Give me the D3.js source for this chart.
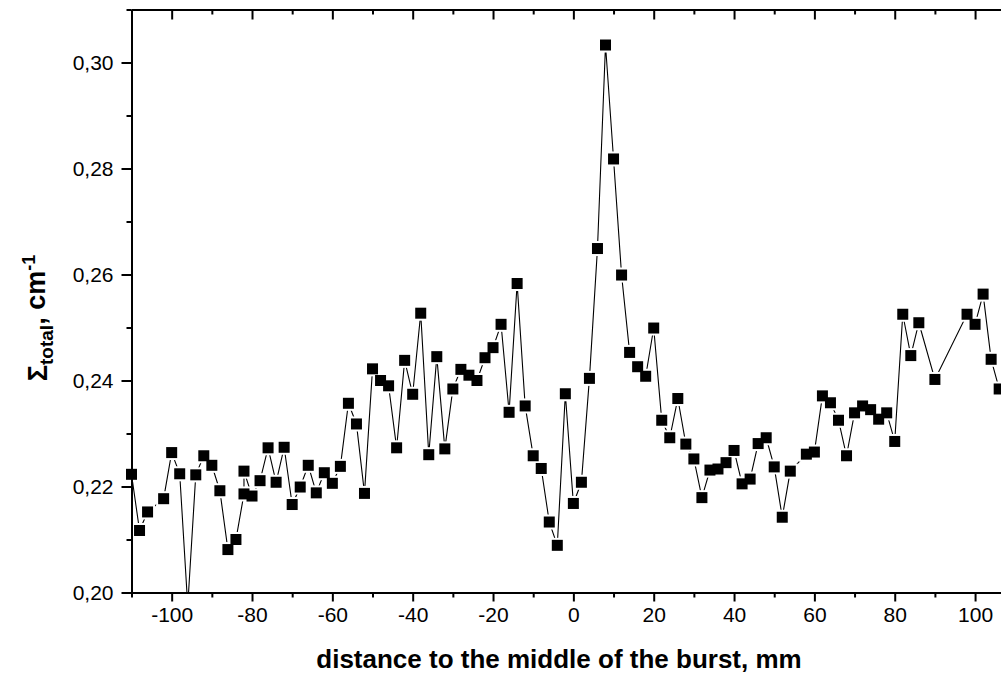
<!DOCTYPE html>
<html>
<head>
<meta charset="utf-8">
<script src="https://cdn.jsdelivr.net/npm/d3@7"></script>
<style>
  html, body { margin: 0; padding: 0; background: #fff; }
  svg { display: block; }
  text { font-family: "Liberation Sans", Arial, sans-serif; fill: #000; }
</style>
</head>
<body>
<svg id="chart" width="1001" height="681"></svg>
<script>
// Position along the burst, mm
const distance = [
  -110, -108, -106, -102, -100, -98, -96, -94, -92, -90,
  -88, -86, -84, -82, -82, -80, -78, -76, -74, -72,
  -70, -68, -66, -64, -62, -60, -58, -56, -54, -52,
  -50, -48, -46, -44, -42, -40, -38, -36, -34, -32,
  -30, -28, -26, -24, -22, -20, -18, -16, -14, -12,
  -10, -8, -6, -4, -2, 0, 2, 4, 6, 8,
  10, 12, 14, 16, 18, 20, 22, 24, 26, 28,
  30, 32, 34, 36, 38, 40, 42, 44, 46, 48,
  50, 52, 54, 58, 60, 62, 64, 66, 68, 70,
  72, 74, 76, 78, 80, 82, 84, 86, 90, 98,
  100, 102, 104, 106
];

// Total macroscopic cross section, cm^-1
const sigmaTotal = [
  0.2223, 0.2117, 0.2152, 0.2177, 0.2264, 0.2224, 0.1975, 0.2222, 0.2258, 0.2240,
  0.2192, 0.2081, 0.2100, 0.2186, 0.2229, 0.2182, 0.2211, 0.2273, 0.2208, 0.2274,
  0.2166, 0.2199, 0.2240, 0.2188, 0.2226, 0.2206, 0.2238, 0.2357, 0.2318, 0.2187,
  0.2422, 0.2400, 0.2390, 0.2273, 0.2438, 0.2374, 0.2527, 0.2260, 0.2445, 0.2271,
  0.2384, 0.2421, 0.2410, 0.2400, 0.2443, 0.2462, 0.2506, 0.2340, 0.2583, 0.2352,
  0.2258, 0.2234, 0.2133, 0.2089, 0.2375, 0.2168, 0.2208, 0.2404, 0.2649, 0.3033,
  0.2818, 0.2599, 0.2453, 0.2426, 0.2408, 0.2499, 0.2325, 0.2292, 0.2366, 0.2280,
  0.2252, 0.2179, 0.2231, 0.2233, 0.2245, 0.2268, 0.2205, 0.2214, 0.2281, 0.2292,
  0.2237, 0.2142, 0.2229, 0.2261, 0.2265, 0.2371, 0.2358, 0.2325, 0.2258, 0.2339,
  0.2352, 0.2345, 0.2327, 0.2339, 0.2285, 0.2525, 0.2447, 0.2509, 0.2402, 0.2525,
  0.2506, 0.2563, 0.2440, 0.2384
];

const xMajorTicks = [-100, -80, -60, -40, -20, 0, 20, 40, 60, 80, 100];
const xMinorTicks = [-110, -90, -70, -50, -30, -10, 10, 30, 50, 70, 90, 110];
const yMajorTicks = [0.20, 0.22, 0.24, 0.26, 0.28, 0.30];
const yMinorTicks = [0.21, 0.23, 0.25, 0.27, 0.29, 0.31];

const xTitle = "distance to the middle of the burst, mm";

const svg = d3.select("#chart");

const plot = { left: 131.5, top: 9.5, bottom: 592.5 };
const pxPerMm = 4.017;

const x = d3.scaleLinear()
  .domain([-110, 110])
  .range([plot.left, plot.left + 220 * pxPerMm]);

const y = d3.scaleLinear()
  .domain([0.20, 0.31])
  .range([plot.bottom, plot.top]);

// decimal comma on the value axis, plain hyphen for negatives on the distance axis
const fmtY = d => d.toFixed(2).replace(".", ",");
const fmtX = d => String(Math.round(d));

const data = distance.map((d, i) => ({ x: d, v: sigmaTotal[i] }));

// clip regions: line stays inside the frame, markers may spill over the sides but not below the bottom axis
const defs = svg.append("defs");
defs.append("clipPath").attr("id", "plotClip")
  .append("rect")
  .attr("x", x.range()[0]).attr("y", plot.top)
  .attr("width", x.range()[1] - x.range()[0])
  .attr("height", plot.bottom - plot.top);
defs.append("clipPath").attr("id", "markClip")
  .append("rect")
  .attr("x", x.range()[0] - 10).attr("y", plot.top - 10)
  .attr("width", x.range()[1] - x.range()[0] + 20)
  .attr("height", plot.bottom - plot.top + 10);

// connecting line
const line = d3.line().x(d => x(d.x)).y(d => y(d.v));
svg.append("path")
  .datum(data)
  .attr("clip-path", "url(#plotClip)")
  .attr("fill", "none")
  .attr("stroke", "#000")
  .attr("stroke-width", 1.1)
  .attr("d", line);

// markers with a white gap around them
const markSize = 11;
const gap = 2;
const marks = svg.append("g").attr("clip-path", "url(#markClip)");
marks.selectAll("rect.halo")
  .data(data)
  .join("rect")
  .attr("class", "halo")
  .attr("x", d => x(d.x) - markSize / 2 - gap)
  .attr("y", d => y(d.v) - markSize / 2 - gap)
  .attr("width", markSize + 2 * gap)
  .attr("height", markSize + 2 * gap)
  .attr("fill", "#fff");
marks.selectAll("rect.mark")
  .data(data)
  .join("rect")
  .attr("class", "mark")
  .attr("x", d => x(d.x) - markSize / 2)
  .attr("y", d => y(d.v) - markSize / 2)
  .attr("width", markSize)
  .attr("height", markSize)
  .attr("fill", "#000");

// axes
function styleAxis(g) {
  g.select(".domain").attr("stroke", "#000").attr("stroke-width", 2);
  g.selectAll(".tick line").attr("stroke", "#000").attr("stroke-width", 2);
  g.selectAll(".tick text")
    .style("font-family", '"Liberation Sans", Arial, sans-serif')
    .style("font-size", "21px")
    .attr("fill", "#000");
}

// bottom
const xBottomMinor = svg.append("g")
  .attr("transform", `translate(0,${plot.bottom})`)
  .call(d3.axisBottom(x).tickValues(xMinorTicks).tickSize(5).tickFormat("").tickSizeOuter(0));
styleAxis(xBottomMinor);
const xBottom = svg.append("g")
  .attr("transform", `translate(0,${plot.bottom})`)
  .call(d3.axisBottom(x).tickValues(xMajorTicks).tickSize(9).tickPadding(5).tickFormat(fmtX).tickSizeOuter(0));
styleAxis(xBottom);
xBottom.selectAll(".tick text").attr("dy", "0.73em");

// top (ticks pointing inward)
const xTopMinor = svg.append("g")
  .attr("transform", `translate(0,${plot.top})`)
  .call(d3.axisTop(x).tickValues(xMinorTicks).tickSize(-5).tickFormat("").tickSizeOuter(0));
styleAxis(xTopMinor);
const xTop = svg.append("g")
  .attr("transform", `translate(0,${plot.top})`)
  .call(d3.axisTop(x).tickValues(xMajorTicks).tickSize(-10).tickFormat("").tickSizeOuter(0));
styleAxis(xTop);

// left
const yLeftMinor = svg.append("g")
  .attr("transform", `translate(${plot.left},0)`)
  .call(d3.axisLeft(y).tickValues(yMinorTicks).tickSize(5).tickFormat("").tickSizeOuter(0));
styleAxis(yLeftMinor);
const yLeft = svg.append("g")
  .attr("transform", `translate(${plot.left},0)`)
  .call(d3.axisLeft(y).tickValues(yMajorTicks).tickSize(10).tickPadding(8).tickFormat(fmtY).tickSizeOuter(0));
styleAxis(yLeft);

// axis titles
svg.append("text")
  .attr("x", 559)
  .attr("y", 668)
  .attr("text-anchor", "middle")
  .style("font-size", "26px")
  .style("font-weight", "bold")
  .text(xTitle);

const yTitle = svg.append("text")
  .attr("transform", "translate(47,318) rotate(-90)")
  .attr("text-anchor", "middle")
  .style("font-size", "27px")
  .style("font-weight", "bold");
yTitle.append("tspan").text("Σ");
yTitle.append("tspan").attr("dy", "0.3em").style("font-size", "19px").text("total");
yTitle.append("tspan").attr("dy", "-0.3em").text(", cm");
yTitle.append("tspan").attr("dy", "-0.55em").style("font-size", "18px").text("-1");
</script>
</body>
</html>
